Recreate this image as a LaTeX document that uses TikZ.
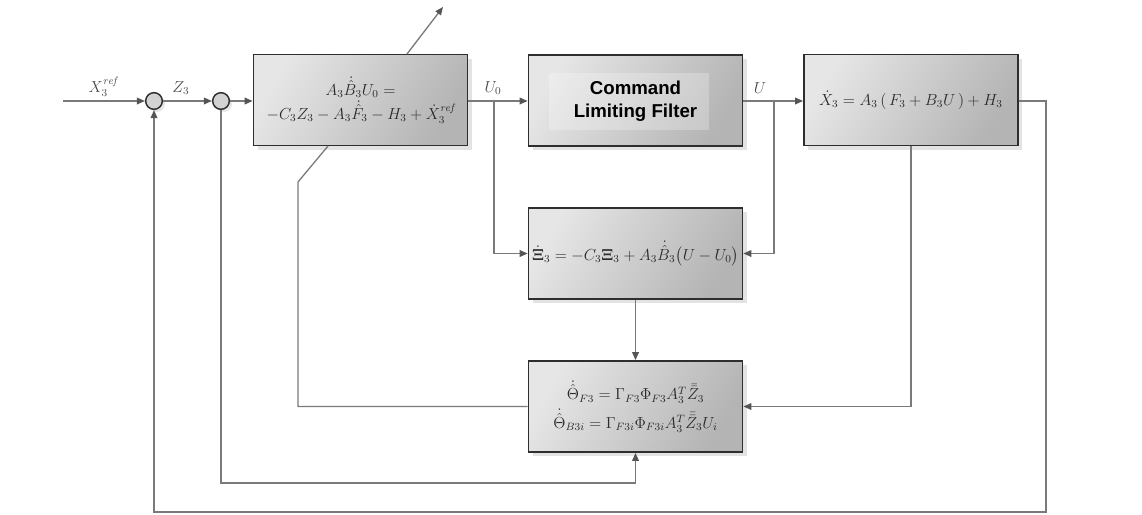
\documentclass[tikz,border=0pt]{standalone}
\usepackage{amsmath,amssymb}
\usepackage{fontspec}
\newfontfamily\arialf{Liberation Sans}
\usetikzlibrary{arrows.meta,shadows,calc}
\definecolor{boxlight}{HTML}{E6E6E6}
\definecolor{boxdark}{HTML}{B4B4B4}
\definecolor{edgec}{HTML}{2E2E2E}
\definecolor{linec}{HTML}{7A7A7A}
\definecolor{tipc}{HTML}{555555}
\definecolor{txtc}{HTML}{2A2A2A}
\tikzset{
  blk/.style={draw=edgec, line width=1.3pt, left color=boxlight, right color=boxdark, shading angle=60,
    minimum width=160.5pt, minimum height=68.25pt, inner sep=0pt, align=center, text=txtc,
    font=\fontsize{12}{16}\selectfont,
    drop shadow={opacity=0.22, shadow xshift=3pt, shadow yshift=-3pt}},
  sumc/.style={circle, draw=edgec, line width=1.1pt, fill=gray!35, minimum size=12.5pt, inner sep=0pt,
    drop shadow={opacity=0.2, shadow xshift=2pt, shadow yshift=-2pt}},
  wire/.style={draw=linec, line width=1pt},
  arr/.style={wire, -{Triangle[length=6pt,width=5pt,fill=tipc,color=tipc]}},
  lbl/.style={text=gray!60!black, font=\fontsize{12}{14}\selectfont},
}
\begin{document}
\begin{tikzpicture}[x=0.75pt,y=-0.75pt]
\useasboundingbox (0,0) rectangle (1142,514);
% blocks
\node[blk] (b1) at (360.5,100) {$A_3\dot{\hat{B}}_3U_0 =$\\[2pt] $-C_3Z_3 - A_3\dot{\hat{F}}_3 - H_3 + \dot{X}_3^{\mathit{ref}}$};
\node[blk] (b2) at (635.5,100.5) {};
\node[fill=white, fill opacity=0.25, minimum width=120pt, minimum height=42.75pt, inner sep=0pt] (b2in) at (629,101.5) {};
\node[text=black, align=center, font=\arialf\bfseries\fontsize{14}{17}\selectfont] (b2t) at (635.5,101) {Command\\Limiting Filter};
\node[blk] (b3) at (911,100) {$\dot{X}_3 = A_3\,(\,F_3 + B_3U\,) + H_3$};
\node[blk] (bx) at (635.5,253.5) {$\dot{\boldsymbol{\Xi}}_3 = -C_3\boldsymbol{\Xi}_3 + A_3\dot{\hat{B}}_3\bigl(U - U_0\bigr)$};
\node[blk] (b4) at (635.5,406.5) {$\dot{\hat{\Theta}}_{F3} = \Gamma_{F3}\Phi_{F3}A_3^T\bar{\bar{Z}}_3$\\[3pt] $\dot{\hat{\Theta}}_{B3i} = \Gamma_{F3i}\Phi_{F3i}A_3^T\bar{\bar{Z}}_3U_i$};
% summing junctions
\node[sumc] (c1) at (154,101) {};
\node[sumc] (c2) at (221,101) {};
% coordinates
\coordinate (in) at (63,101);
\coordinate (d0) at (407,54);
\coordinate (d1) at (443,7);
\coordinate (k0) at (328,146);
\coordinate (k1) at (298,182);
\coordinate (k2) at (298,406.5);
\coordinate (j1) at (494,101);
\coordinate (j2) at (774,101);
\coordinate (r1) at (1046,101);
\coordinate (r2) at (1046,512);
\coordinate (q1) at (221,483);
% labels
\node[lbl] (lx) at (103,87) {$X_3^{\mathit{ref}}$};
\node[lbl] (lz) at (181,88) {$Z_3$};
\node[lbl] (lu0) at (493,88) {$U_0$};
\node[lbl] (lu) at (760,88) {$U$};
% connectors
\draw[arr] (in) -- (c1);
\draw[arr] (c1) -- (c2);
\draw[arr] (c2) -- (b1.west |- c2);
\draw[arr] (b1.east |- j1) -- (b2.west |- j1);
\draw[arr] (b2.east |- j2) -- (b3.west |- j2);
\draw[arr] (d0) -- (d1);
\draw[wire] (k0) -- (k1) -- (k2) -- (b4.west);
\draw[arr] (j1) |- (bx.west);
\draw[arr] (j2) |- (bx.east);
\draw[arr] (bx.south) -- (b4.north);
\draw[arr] (b3.south) |- (b4.east);
\draw[arr] (c2.south) -- (q1) -| (b4.south);
\draw[arr] (b3.east |- r1) -- (r1) -- (r2) -| (c1.south);
\end{tikzpicture}
\end{document}
